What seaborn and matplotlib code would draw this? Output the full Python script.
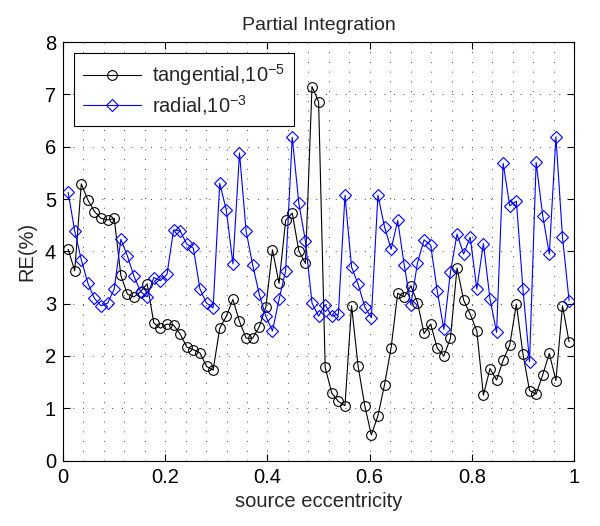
import numpy as np
import pandas as pd
import seaborn as sns
import matplotlib.pyplot as plt
from matplotlib.ticker import MultipleLocator

# evenly spaced source eccentricity samples (77 points between 0.01 and 0.99)
ecc = np.linspace(0.01, 0.99, 77)

tangential = [4.04, 3.63, 5.29, 4.98, 4.76, 4.63, 4.60, 4.63, 3.54, 3.18,
              3.13, 3.23, 3.38, 2.63, 2.53, 2.61, 2.59, 2.42, 2.17, 2.12,
              2.06, 1.80, 1.73, 2.53, 2.76, 3.08, 2.66, 2.34, 2.34, 2.56,
              2.94, 4.03, 3.39, 4.59, 4.73, 4.01, 3.77, 7.15, 6.86, 1.78,
              1.29, 1.13, 1.05, 2.96, 1.80, 1.05, 0.49, 0.86, 1.45, 2.16,
              3.20, 3.13, 3.34, 3.02, 2.43, 2.61, 2.15, 2.00, 2.34, 3.68,
              3.07, 2.80, 2.48, 1.25, 1.76, 1.54, 1.92, 2.21, 2.99, 2.04,
              1.34, 1.27, 1.64, 2.05, 1.53, 2.96, 2.27]

radial = [5.13, 4.39, 3.84, 3.39, 3.10, 2.96, 3.01, 3.28, 4.23, 3.91,
          3.52, 3.23, 3.13, 3.50, 3.44, 3.56, 4.41, 4.39, 4.14, 4.06,
          3.28, 3.01, 2.92, 5.30, 4.79, 3.76, 5.88, 4.39, 3.74, 3.18,
          2.76, 2.48, 3.08, 3.63, 6.18, 4.92, 4.20, 3.01, 2.76, 2.98,
          2.76, 2.80, 5.07, 3.70, 3.37, 2.94, 2.73, 5.07, 4.47, 4.04,
          4.59, 3.73, 2.98, 3.78, 4.22, 4.12, 3.24, 2.51, 3.60, 4.33,
          3.95, 4.27, 3.28, 4.15, 3.09, 2.45, 5.68, 4.87, 4.96, 3.28,
          1.89, 5.70, 4.68, 3.95, 6.19, 4.27, 3.06]

xticks = [0, 0.2, 0.4, 0.6, 0.8, 1]
xticklabels = ['0', '0.2', '0.4', '0.6', '0.8', '1']
yticks = [0, 1, 2, 3, 4, 5, 6, 7, 8]

sns.set_style('white')
plt.rcParams['font.family'] = ['Liberation Sans', 'DejaVu Sans']
plt.rcParams['mathtext.fontset'] = 'custom'
plt.rcParams['mathtext.rm'] = 'Liberation Sans'
plt.rcParams['mathtext.it'] = 'Liberation Sans'

fig = plt.figure(figsize=(6, 5.26), dpi=100)
ax = fig.add_axes([0.105, 0.1243, 0.852, 0.7957])

df = pd.DataFrame({'ecc': ecc, 'tang': tangential, 'rad': radial})

sns.lineplot(data=df, x='ecc', y='tang', ax=ax, color='black', lw=0.8,
             marker='o', markersize=7, markerfacecolor='none',
             markeredgecolor='black', markeredgewidth=0.8,
             label='tangential,10$^{-5}$')
sns.lineplot(data=df, x='ecc', y='rad', ax=ax, color='#0000ff', lw=0.8,
             marker='D', markersize=6, markerfacecolor='none',
             markeredgecolor='#0000ff', markeredgewidth=0.8,
             label='radial,10$^{-3}$')

ax.set_xlim(0, 1)
ax.set_ylim(0, 8)
ax.set_xticks(xticks)
ax.set_xticklabels(xticklabels)
ax.set_yticks(yticks)
ax.xaxis.set_minor_locator(MultipleLocator(0.04))

# MATLAB-like sparse dotted grid
ax.grid(True, which='both', axis='x', linestyle=(0, (1, 9)), color='#444444', lw=0.7)
ax.grid(True, which='major', axis='y', linestyle=(0, (1, 9)), color='#444444', lw=0.7)
ax.set_axisbelow(True)

ax.tick_params(which='both', direction='in', top=True, right=True,
               bottom=True, left=True, labelsize=14.5, colors='black')
ax.tick_params(which='major', length=5, pad=5)
ax.tick_params(which='minor', length=0)
for s in ax.spines.values():
    s.set_color('black')
    s.set_linewidth(0.8)

ax.set_xlabel('source eccentricity', fontsize=14.5, labelpad=4)
ax.set_ylabel('RE(%)', fontsize=14.5, labelpad=6)
ax.set_title('Partial Integration', fontsize=14, pad=9)

leg = ax.legend(loc='upper left', fontsize=14.5, frameon=True, fancybox=False,
                edgecolor='black', framealpha=1, borderaxespad=0.55,
                handlelength=2.85, handletextpad=0.55, labelspacing=0.25,
                borderpad=0.45)
leg.get_frame().set_linewidth(0.8)

fig.savefig('out.png', dpi=100)
